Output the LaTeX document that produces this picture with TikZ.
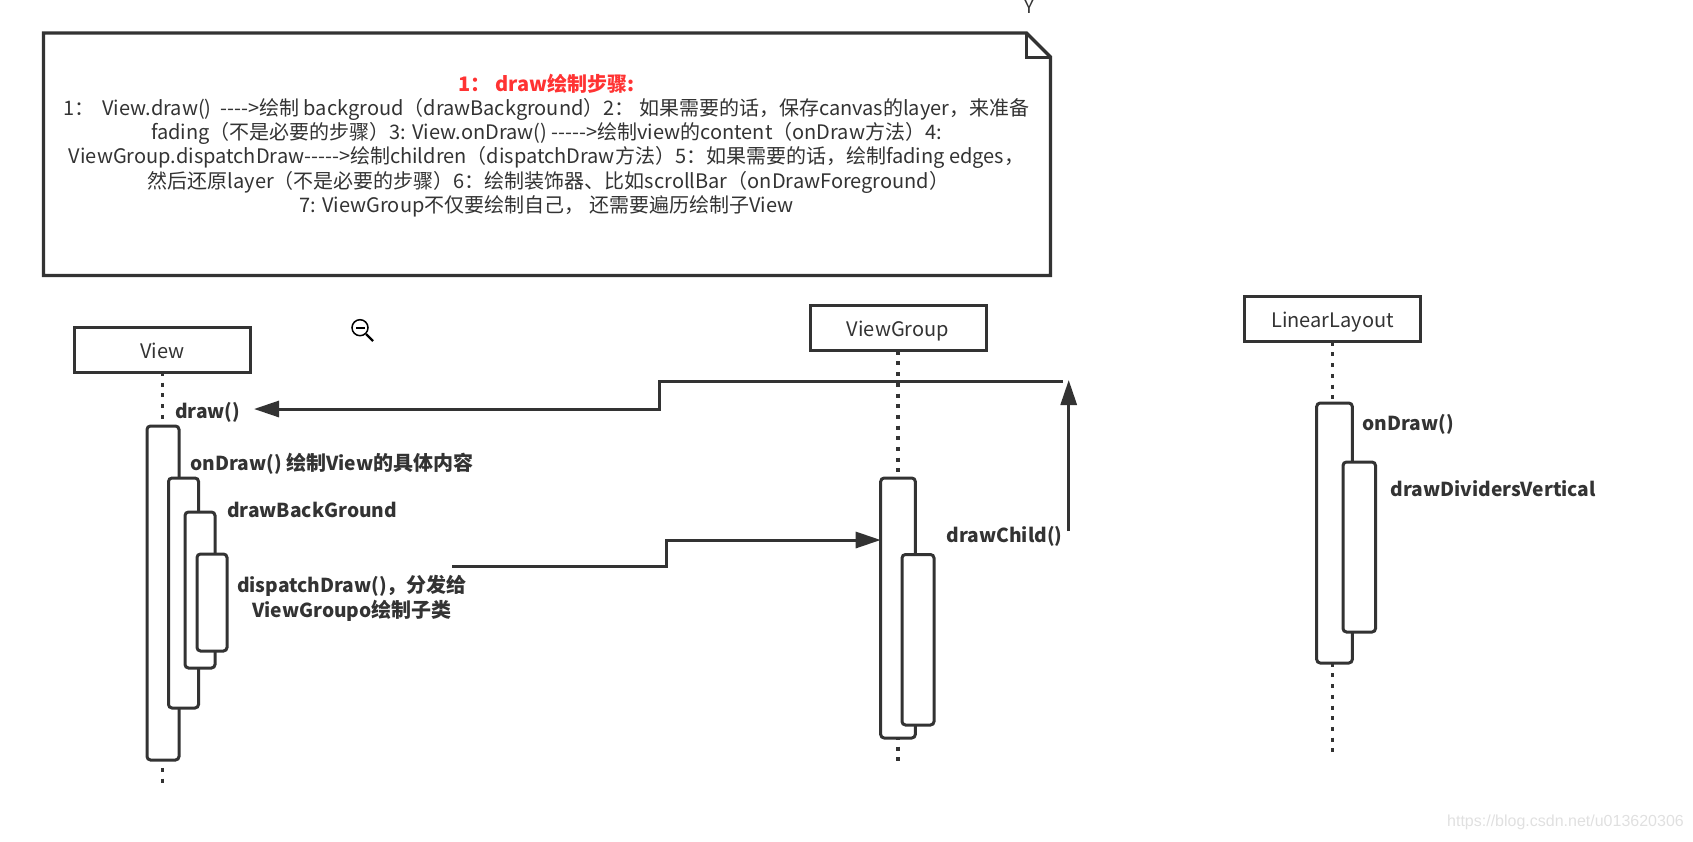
\documentclass[tikz,border=0pt]{standalone}
\usepackage{fontspec}
\setmainfont{Noto Sans CJK SC}
\usetikzlibrary{arrows.meta}
\definecolor{ink}{HTML}{333333}
\tikzset{
  x=1pt,y=-1pt,
  box/.style={draw=ink,line width=3pt,fill=white,inner sep=0pt,outer sep=0pt,text=ink,font=\fontsize{20}{24}\selectfont,anchor=north west,text height=17pt,text depth=0pt,minimum width=176pt,minimum height=45pt},
  bar/.style={draw=ink,line width=3pt,fill=white,rounded corners=3.5pt},
  life/.style={draw=ink,line width=3.2pt,dash pattern=on 4pt off 6.7pt},
  msg/.style={draw=ink,line width=3pt},
  tip/.style={-{Triangle[length=25pt,width=16pt,color=ink]}},
  lab/.style={text=ink,font=\fontsize{19.2}{24.5}\selectfont\bfseries,inner sep=0pt,align=center},
}
\newcommand{\bigcjk}[1]{{\fontsize{20}{24.5}\selectfont #1}}
\begin{document}
\begin{tikzpicture}
\useasboundingbox (0,0) rectangle (1693,841);
% note
\draw[draw=ink,line width=3.3pt,fill=white] (43.5,33) -- (1026.5,33) -- (1050.5,57) -- (1050.5,275.5) -- (43.5,275.5) -- cycle;
\draw[draw=ink,line width=3pt] (1026.5,33) -- (1026.5,57) -- (1050.5,57);
\node[inner sep=0pt,text=ink,align=center,font=\fontsize{20}{24.2}\selectfont] (note) at (546.5,145.5) {%
{\bfseries\color[HTML]{FF3333}1：\ draw绘制步骤:}\\
1：\ \,View.draw()\ \ -{}-{}-{}->绘制 backgroud（drawBackground）2：\ 如果需要的话，保存canvas的layer，来准备\\
fading（不是必要的步骤）3: View.onDraw() -{}-{}-{}-{}->绘制view的content（onDraw方法）4:\hspace*{10pt}\\
ViewGroup.dispatchDraw-{}-{}-{}-{}->绘制children（dispatchDraw方法）5：如果需要的话，绘制fading edges，\\
\hspace*{4pt}然后还原layer（不是必要的步骤）6：绘制装饰器、比如scrollBar（onDrawForeground）\\
7: ViewGroup不仅要绘制自己，\ 还需要遍历绘制子View};
\node[inner sep=0pt,text=ink,font=\fontsize{18.5}{20}\selectfont,anchor=base] (y) at (1029,13.7) {Y};
% heads
\node[box] (v) at (74.5,327) {View};
\node[box] (vg) at (810,305.7) {ViewGroup};
\node[box] (ll) at (1244.5,296.7) {LinearLayout};
% lifelines
\coordinate (vend) at (v.south |- 0,786);
\coordinate (vgend) at (vg.south |- 0,764);
\coordinate (llend) at (ll.south |- 0,755);
\draw[life] (v.south) -- (vend);
\draw[life] (vg.south) -- (vgend);
\draw[life] (ll.south) -- (llend);
% activations
\draw[bar] (147,426) rectangle (179,760);
\draw[bar] (168.5,478) rectangle (198.5,708);
\draw[bar] (185,512) rectangle (215,668);
\draw[bar] (197,554) rectangle (227,651);
\draw[bar] (880.7,478) rectangle (915.3,738);
\draw[bar] (902,554.5) rectangle (934,725);
\draw[bar] (1316.7,403) rectangle (1352.3,663);
\draw[bar] (1343,462) rectangle (1375.5,632);
% labels
\node[lab,anchor=west] (l1) at (175,412.5) {draw()};
\node[lab,anchor=west] (l2) at (190.5,463.5) {onDraw() \bigcjk{绘制}View\bigcjk{的具体内容}};
\node[lab,anchor=west] (l3) at (227,509.5) {drawBackGround};
\node[lab] (l4) at (352,598.5) {dispatchDraw()\bigcjk{，分发给}\\ViewGroupo\bigcjk{绘制子类}};
\node[lab,anchor=west] (l5) at (946.5,536) {drawChild()};
\node[lab,anchor=west] (l6) at (1362.5,424.5) {onDraw()};
\node[lab,anchor=west] (l7) at (1390.5,488.5) {drawDividersVertical};
% connectors
\coordinate (a0) at (452,566);
\coordinate (a1) at (666,566);
\coordinate (a2) at (666,540);
\coordinate (a3) at (880.7,540);
\draw[msg,tip] (a0) -- (a1) -- (a2) -- (a3);
\coordinate (b0) at (1063,381);
\coordinate (b1) at (659,381);
\coordinate (b2) at (659,409);
\coordinate (b3) at (254,409);
\draw[msg,tip] (b0) -- (b1) -- (b2) -- (b3);
\coordinate (c0) at (1068.7,531);
\coordinate (c1) at (1068.7,380);
\draw[msg,tip] (c0) -- (c1);
% zoom cursor
\draw[black,line width=1.5pt,fill=white] (360,327.7) circle (8pt);
\draw[black,line width=2pt] (356,327.7) -- (364.5,327.7);
\draw[black,line width=2.4pt] (366,334) -- (373,341);
% watermark
\node[inner sep=0pt,text=black!12,font=\fontsize{16}{18}\selectfont,anchor=east] (wm) at (1684,822) {\fontspec{Liberation Sans}https://blog.csdn.net/u013620306};
\end{tikzpicture}
\end{document}
